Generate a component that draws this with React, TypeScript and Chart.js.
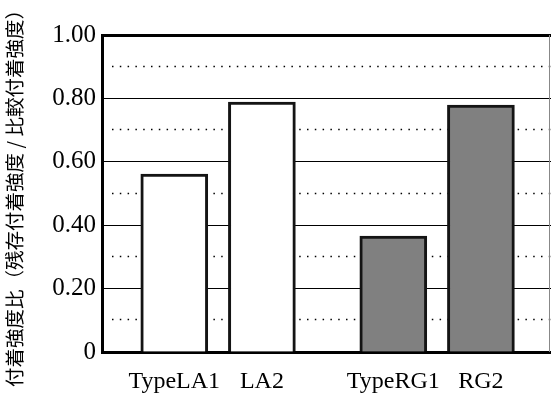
import React, { useEffect, useRef } from "react";
import { Chart, registerables } from "chart.js";

Chart.register(...registerables);

const categories = ["TypeLA1", "LA2", "TypeRG1", "RG2"];
const positions = [0, 1, 2.5, 3.5];
const values = [0.561, 0.788, 0.366, 0.779];
const fillColors = ["#ffffff", "#ffffff", "#808080", "#808080"];
const yTicks = [0, 0.2, 0.4, 0.6, 0.8, 1.0];
const minorLines = [0.1, 0.3, 0.5, 0.7, 0.9];
const yTitle = "付着強度比（残存付着強度 / 比較付着強度）";

const dottedPlugin = {
  id: "dotted",
  beforeDatasetsDraw(chart: any) {
    const { ctx, chartArea, scales } = chart;
    ctx.save();
    ctx.strokeStyle = "#000";
    ctx.lineWidth = 1.5;
    ctx.setLineDash([1.5, 6.3]);
    for (const v of minorLines) {
      const y = Math.round(scales.y.getPixelForValue(v)) - 0.5;
      ctx.beginPath();
      ctx.moveTo(chartArea.left + 10, y);
      ctx.lineTo(chartArea.right, y);
      ctx.stroke();
    }
    ctx.setLineDash([]);
    ctx.strokeStyle = "#888";
    ctx.lineWidth = 1;
    ctx.beginPath();
    ctx.moveTo(chartArea.right - 1.5, chartArea.top);
    ctx.lineTo(chartArea.right - 1.5, chartArea.bottom);
    ctx.stroke();
    ctx.restore();
  },
};

export default function App() {
  const ref = useRef<HTMLCanvasElement>(null);
  useEffect(() => {
    const chart = new Chart(ref.current!, {
      type: "bar",
      data: {
        datasets: [
          {
            data: positions.map((x, i) => ({ x, y: values[i] })),
            backgroundColor: fillColors,
            borderColor: "#141414",
            borderWidth: 3,
            barThickness: 67,
          },
        ],
      },
      plugins: [dottedPlugin],
      options: {
        animation: false,
        responsive: false,
        layout: { padding: { top: 35, right: 0, left: 0, bottom: 0 } },
        plugins: { legend: { display: false }, tooltip: { enabled: false } },
        scales: {
          x: {
            type: "linear",
            offset: false,
            min: -0.825,
            max: 4.3,
            afterBuildTicks: (scale: any) => {
              scale.ticks = positions.map((v) => ({ value: v }));
            },
            afterFit: (scale: any) => {
              scale.height = 51;
            },
            ticks: {
              autoSkip: false,
              maxRotation: 0,
              padding: 15,
              color: "#000",
              font: { family: "'Liberation Serif'", size: 24 },
              callback: (v: any) => {
                const i = positions.indexOf(Number(v));
                return i >= 0 ? categories[i] : "";
              },
            },
            grid: { display: false, drawTicks: false, offset: false },
            border: { display: true, color: "#000", width: 3 },
          },
          y: {
            min: 0,
            max: 1,
            afterBuildTicks: (scale: any) => {
              scale.ticks = yTicks.map((v) => ({ value: v }));
            },
            afterFit: (scale: any) => {
              scale.width = 102;
            },
            ticks: {
              padding: 6,
              color: "#000",
              font: { family: "'Liberation Serif'", size: 25 },
              callback: (v: any) => (Number(v) === 0 ? "0" : Number(v).toFixed(2)),
            },
            grid: {
              drawTicks: false,
              color: "#000",
              lineWidth: (c: any) => (c.tick && c.tick.value === 1 ? 3 : 1),
            },
            border: { display: true, color: "#000", width: 3 },
            title: {
              display: true,
              text: yTitle,
              color: "#000",
              font: { family: "'Noto Sans CJK JP'", size: 19.5 },
              padding: { top: 3, bottom: 0 },
            },
          },
        },
      },
    });
    return () => chart.destroy();
  }, []);
  return (
    <div style={{ position: "absolute", left: 0, top: 0, width: 551, height: 403, background: "#fff" }}>
      <canvas ref={ref} width={551} height={403} style={{ width: 551, height: 403, display: "block" }} />
    </div>
  );
}
